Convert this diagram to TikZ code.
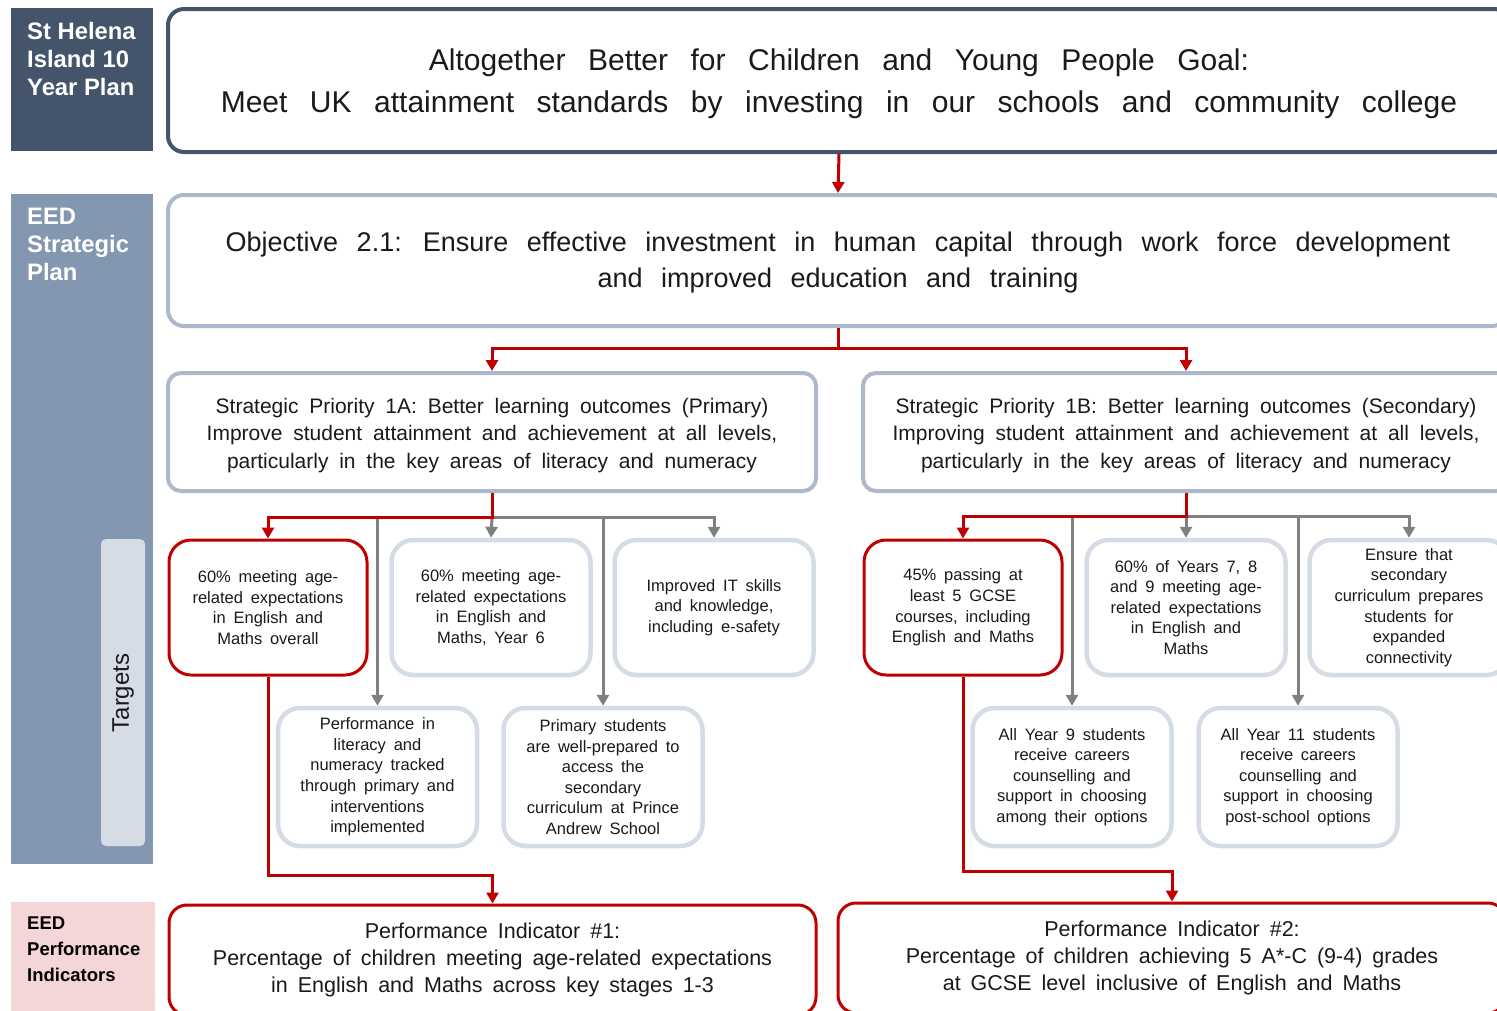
\documentclass[tikz,border=0pt]{standalone}
\usepackage{fontspec}
\setmainfont{Liberation Sans}
\usetikzlibrary{arrows.meta}
\definecolor{darkslate}{HTML}{44546A}
\definecolor{midslate}{HTML}{8497B0}
\definecolor{lightslate}{HTML}{D6DCE5}
\definecolor{bordslate}{HTML}{ADB9CA}
\definecolor{pinkpanel}{HTML}{F4D6D6}
\definecolor{redline}{HTML}{C00000}
\definecolor{grayline}{HTML}{808080}
\definecolor{txt}{HTML}{1A1A1A}
\newcommand{\upstrut}[1]{\rule{0pt}{#1}}
\newcommand{\goalfont}{\fontsize{30}{42}\selectfont\spaceskip 22.5pt\relax}
\newcommand{\objfont}{\fontsize{27}{36}\selectfont\spaceskip 18.5pt\relax}
\newcommand{\spfont}{\fontsize{21}{27.5}\selectfont\spaceskip 10.8pt\relax}
\newcommand{\tgfont}{\fontsize{16.5}{20.6}\selectfont\spaceskip 7.8pt\relax}
\newcommand{\pifont}{\fontsize{21.5}{27.3}\selectfont\spaceskip 10pt\relax}
\tikzset{
  goalbox/.style={draw=darkslate, line width=4, rounded corners=16, fill=white, align=center, inner sep=0, text=txt,
    font=\goalfont},
  objbox/.style={draw=bordslate, line width=4, rounded corners=16, fill=white, align=center, inner sep=0, text=txt,
    font=\objfont},
  spbox/.style={draw=bordslate, line width=4, rounded corners=13, fill=white, align=center, inner sep=0, text=txt,
    font=\spfont},
  tgbox/.style={draw=lightslate, line width=4.5, rounded corners=22, fill=white, align=center, inner sep=0, text=txt,
    minimum width=199, font=\tgfont},
  tgred/.style={tgbox, draw=redline, line width=3},
  pibox/.style={draw=redline, line width=3, rounded corners=18, fill=white, align=center, inner sep=0, text=txt,
    minimum height=110, font=\pifont},
  sidelabel/.style={anchor=north west, align=left, inner sep=0, font=\bfseries\fontsize{23.8}{28}\selectfont, text=white},
  redarrow/.style={draw=redline, line width=3, -{Triangle[width=12,length=11]}},
  grayarrow/.style={draw=grayline, line width=3, -{Triangle[width=12,length=11]}},
}
\begin{document}
\begin{tikzpicture}[x=1pt,y=-1pt]
\useasboundingbox (0,0) rectangle (1497,1010);
\clip (0,0) rectangle (1497,1010);
\fill[white] (0,0) rectangle (1497,1010);

% side panels
\fill[darkslate] (11,8) rectangle (153,151);
\fill[midslate] (11,194) rectangle (153,864);
\fill[lightslate, rounded corners=5] (101,539) rectangle (145,846);
\fill[pinkpanel] (11,902) rectangle (155,1012);
\node[sidelabel] (lab1) at (27,22.5) {St Helena\\Island 10\\Year Plan};
\node[sidelabel] (lab2) at (27,207.5) {EED\\Strategic\\Plan};
\node[sidelabel, text=black, font=\bfseries\fontsize{18.5}{26}\selectfont] (lab3) at (27,917) {EED\\Performance\\Indicators};
\node[rotate=90, inner sep=0, text=txt, font=\fontsize{24}{28}\selectfont] (lab4) at (123,693) {Targets};

% main boxes
\node[goalbox, minimum width=1342, minimum height=143] (goal) at (839,80.5)
  {\upstrut{28pt}Altogether Better for Children and Young People Goal:\\Meet UK attainment standards by investing in our schools and community college};
\node[objbox, minimum width=1340, minimum height=131] (obj) at (838,260.5)
  {\upstrut{24pt}Objective 2.1: Ensure effective investment in human capital through work force development\\and improved education and training};
\node[spbox, minimum width=648, minimum height=118] (sp1a) at (492,432)
  {\upstrut{21.5pt}Strategic Priority 1A: Better learning outcomes (Primary)\\Improve student attainment and achievement at all levels,\\particularly in the key areas of literacy and numeracy};
\node[spbox, minimum width=646, minimum height=118] (sp1b) at (1186,432)
  {\upstrut{21.5pt}Strategic Priority 1B: Better learning outcomes (Secondary)\\Improving student attainment and achievement at all levels,\\particularly in the key areas of literacy and numeracy};

% targets row 1
\node[tgred, minimum width=198, minimum height=135] (t1) at (268,607.5)
  {60\% meeting age-\\related expectations\\in English and\\Maths overall};
\node[tgbox, minimum height=135] (t2) at (491,607.5)
  {60\% meeting age-\\related expectations\\in English and\\Maths, Year 6};
\node[tgbox, minimum height=135] (t3) at (714,607.5)
  {Improved IT skills\\and knowledge,\\including e-safety};
\node[tgred, minimum width=198, minimum height=135] (r1) at (963,607.5)
  {45\% passing at\\least 5 GCSE\\courses, including\\English and Maths};
\node[tgbox, minimum height=135] (r2) at (1186,607.5)
  {60\% of Years 7, 8\\and 9 meeting age-\\related expectations\\in English and\\Maths};
\node[tgbox, minimum height=135] (r3) at (1409,607.5)
  {Ensure that\\secondary\\curriculum prepares\\students for\\expanded\\connectivity};
% targets row 2
\node[tgbox, minimum height=138] (t4) at (377.5,777)
  {Performance in\\literacy and\\numeracy tracked\\through primary and\\interventions\\implemented};
\node[tgbox, minimum height=138] (t5) at (603,777)
  {Primary students\\are well-prepared to\\access the\\secondary\\curriculum at Prince\\Andrew School};
\node[tgbox, minimum height=138] (r4) at (1072,777)
  {All Year 9 students\\receive careers\\counselling and\\support in choosing\\among their options};
\node[tgbox, minimum height=138] (r5) at (1298,777)
  {All Year 11 students\\receive careers\\counselling and\\support in choosing\\post-school options};

% performance indicators
\node[pibox, minimum width=647] (pi1) at (492.5,960)
  {Performance Indicator \#1:\\Percentage of children meeting age-related expectations\\in English and Maths across key stages 1-3};
\node[pibox, minimum width=668] (pi2) at (1172,958)
  {Performance Indicator \#2:\\Percentage of children achieving 5 A*-C (9-4) grades\\at GCSE level inclusive of English and Maths};

% connectors
\coordinate (j0) at (838,348);
\coordinate (ja) at (492,517);
\coordinate (jb) at (1186,516);
\coordinate (ya) at (0,875);
\coordinate (yb) at (0,871);

\draw[redarrow] (goal.south) -- (obj.north);
\draw[redarrow] (obj.south) -- (j0) -| (sp1a.north);
\draw[redarrow] (j0) -| (sp1b.north);

\draw[grayarrow] (ja) -- (t2.north);
\draw[grayarrow] (ja) -| (t3.north);
\draw[grayarrow] (t4.north |- ja) -- (t4.north);
\draw[grayarrow] (t5.north |- ja) -- (t5.north);
\draw[redarrow] (sp1a.south) -- (ja) -| (t1.north);

\draw[grayarrow] (jb) -- (r2.north);
\draw[grayarrow] (jb) -| (r3.north);
\draw[grayarrow] (r4.north |- jb) -- (r4.north);
\draw[grayarrow] (r5.north |- jb) -- (r5.north);
\draw[redarrow] (sp1b.south) -- (jb) -| (r1.north);

\draw[redarrow] (t1.south) -- (t1.south |- ya) -| (pi1.north);
\draw[redarrow] (r1.south) -- (r1.south |- yb) -| (pi2.north);
\end{tikzpicture}
\end{document}
